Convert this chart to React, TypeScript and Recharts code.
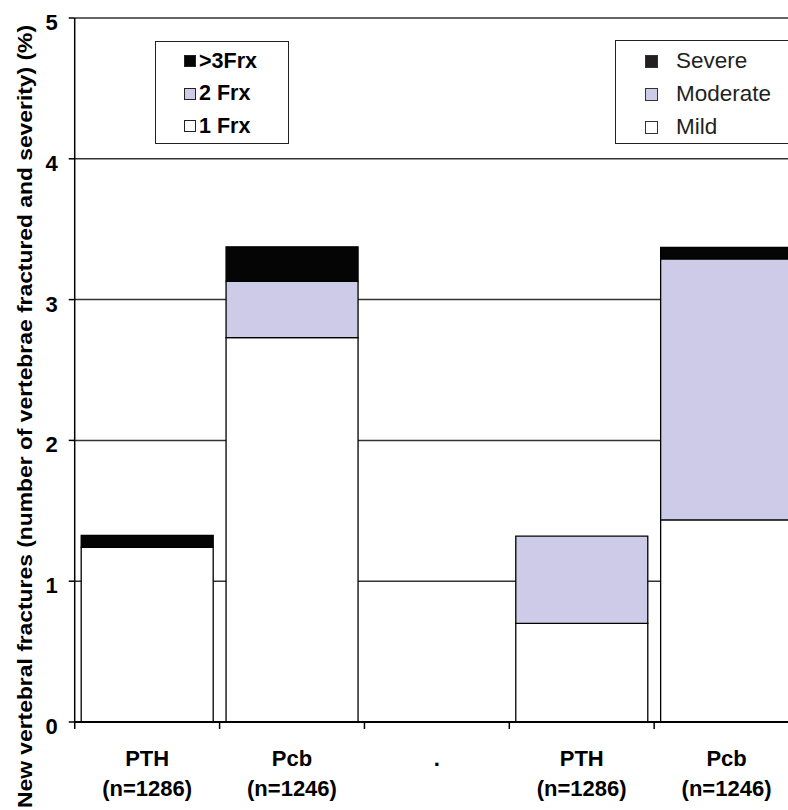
import { Bar, BarChart, CartesianGrid, Legend, XAxis, YAxis } from "recharts";

const CATEGORIES = ["PTH", "Pcb", ".", "PTH", "Pcb"];
const SAMPLE_SIZES = ["(n=1286)", "(n=1246)", "", "(n=1286)", "(n=1246)"];
// bottom / middle / top segment of each stacked bar (%)
const LOWER = [1.24, 2.73, 0, 0.7, 1.435];
const MIDDLE = [0, 0.4, 0, 0.62, 1.855];
const UPPER = [0.085, 0.245, 0, 0, 0.08];
const Y_TICKS = [0, 1, 2, 3, 4, 5];
const COUNT_LEGEND = [">3Frx", "2 Frx", "1 Frx"];
const SEVERITY_LEGEND = ["Severe", "Moderate", "Mild"];
const Y_LABEL = "New vertebral fractures (number of vertebrae fractured and severity) (%)";

const FONT = "'Liberation Sans', Arial, sans-serif";
const WHITE = "#ffffff";
const LAVENDER = "#cdcbe7";
const BLACK = "#050505";
// legend order is top segment first
const LEGEND_COLORS = [BLACK, LAVENDER, WHITE];
const HALF_BAND = 72.4;

const data = CATEGORIES.map((name, i) => ({
  name,
  low: LOWER[i],
  mid: MIDDLE[i],
  high: UPPER[i]
}));

const XTick = (props: any) => {
  const { x, y, payload } = props;
  return (
    <g>
      <line x1={x - HALF_BAND} x2={x - HALF_BAND} y1={y} y2={y + 7} stroke="#000" strokeWidth={1.5} />
      <text x={x} y={y + 44} textAnchor="middle" fontFamily={FONT} fontWeight="bold" fontSize={22} fill="#000">
        {payload.value}
      </text>
      <text x={x} y={y + 74} textAnchor="middle" fontFamily={FONT} fontWeight="bold" fontSize={22} fill="#000">
        {SAMPLE_SIZES[payload.index]}
      </text>
    </g>
  );
};

const YTick = (props: any) => {
  const { x, y, payload } = props;
  return (
    <text x={x} y={y + 12} textAnchor="end" fontFamily={FONT} fontWeight="bold" fontSize={22} fill="#000">
      {payload.value}
    </text>
  );
};

const YLabel = () => (
  <text
    transform="translate(32, 416.5) rotate(-90)"
    textAnchor="middle"
    fontFamily={FONT}
    fontWeight="bold"
    fontSize={21}
    textLength={783}
    lengthAdjust="spacingAndGlyphs"
    fill="#000"
  >
    {Y_LABEL}
  </text>
);

const legendBox = {
  position: "absolute" as const,
  border: "1.5px solid #222",
  background: "#fff",
  boxSizing: "border-box" as const
};

const LegendBoxes = () => (
  <div style={{ fontFamily: FONT, color: "#000" }}>
    <div style={{ ...legendBox, left: 155, top: 41, width: 134, height: 103 }}>
      {COUNT_LEGEND.map((label, i) => (
        <div
          key={label}
          style={{ position: "absolute", left: 28, top: 7 + i * 32.5, height: 24, display: "flex", alignItems: "center" }}
        >
          <span
            style={{ width: 12, height: 12, background: LEGEND_COLORS[i], border: "1px solid #222", boxSizing: "border-box" }}
          />
          <span style={{ marginLeft: 3, fontWeight: "bold", fontSize: 21.5, whiteSpace: "nowrap" }}>{label}</span>
        </div>
      ))}
    </div>
    <div style={{ ...legendBox, left: 615, top: 40, width: 200, height: 104 }}>
      {SEVERITY_LEGEND.map((label, i) => (
        <div
          key={label}
          style={{ position: "absolute", left: 29, top: 8 + i * 33, height: 24, display: "flex", alignItems: "center" }}
        >
          <span
            style={{ width: 13, height: 13, background: i === 0 ? "#231f20" : LEGEND_COLORS[i], border: "1.3px solid #333", boxSizing: "border-box" }}
          />
          <span style={{ marginLeft: 18, fontSize: 22.5, whiteSpace: "nowrap", color: "#231f20" }}>{label}</span>
        </div>
      ))}
    </div>
  </div>
);

export default function App() {
  return (
    <div style={{ position: "fixed", left: 0, top: 0, width: 788, height: 810, overflow: "hidden", background: "#fff" }}>
      <BarChart
        width={809}
        height={810}
        data={data}
        margin={{ top: 18, right: 10, bottom: 0, left: 0 }}
        barCategoryGap={6.5}
      >
        <CartesianGrid horizontal vertical={false} stroke="#333" strokeWidth={1.5} />
        <XAxis
          dataKey="name"
          height={88}
          tickLine={false}
          tickSize={0}
          tickMargin={0}
          axisLine={{ stroke: "#000", strokeWidth: 2 }}
          tick={<XTick />}
          interval={0}
        />
        <YAxis
          width={74.7}
          domain={[0, 5]}
          ticks={Y_TICKS}
          interval={0}
          tickSize={6}
          tickMargin={11}
          tickLine={{ stroke: "#000", strokeWidth: 1.5 }}
          axisLine={{ stroke: "#000", strokeWidth: 1.5 }}
          tick={<YTick />}
          label={{ content: () => <YLabel /> }}
        />
        <Legend content={() => <LegendBoxes />} wrapperStyle={{ top: 0, left: 0, width: 0, height: 0 }} />
        <Bar dataKey="low" stackId="s" fill={WHITE} stroke="#000" strokeWidth={1.3} isAnimationActive={false} />
        <Bar dataKey="mid" stackId="s" fill={LAVENDER} stroke="#000" strokeWidth={1.3} isAnimationActive={false} />
        <Bar dataKey="high" stackId="s" fill={BLACK} stroke="#000" strokeWidth={1.3} isAnimationActive={false} />
      </BarChart>
    </div>
  );
}
